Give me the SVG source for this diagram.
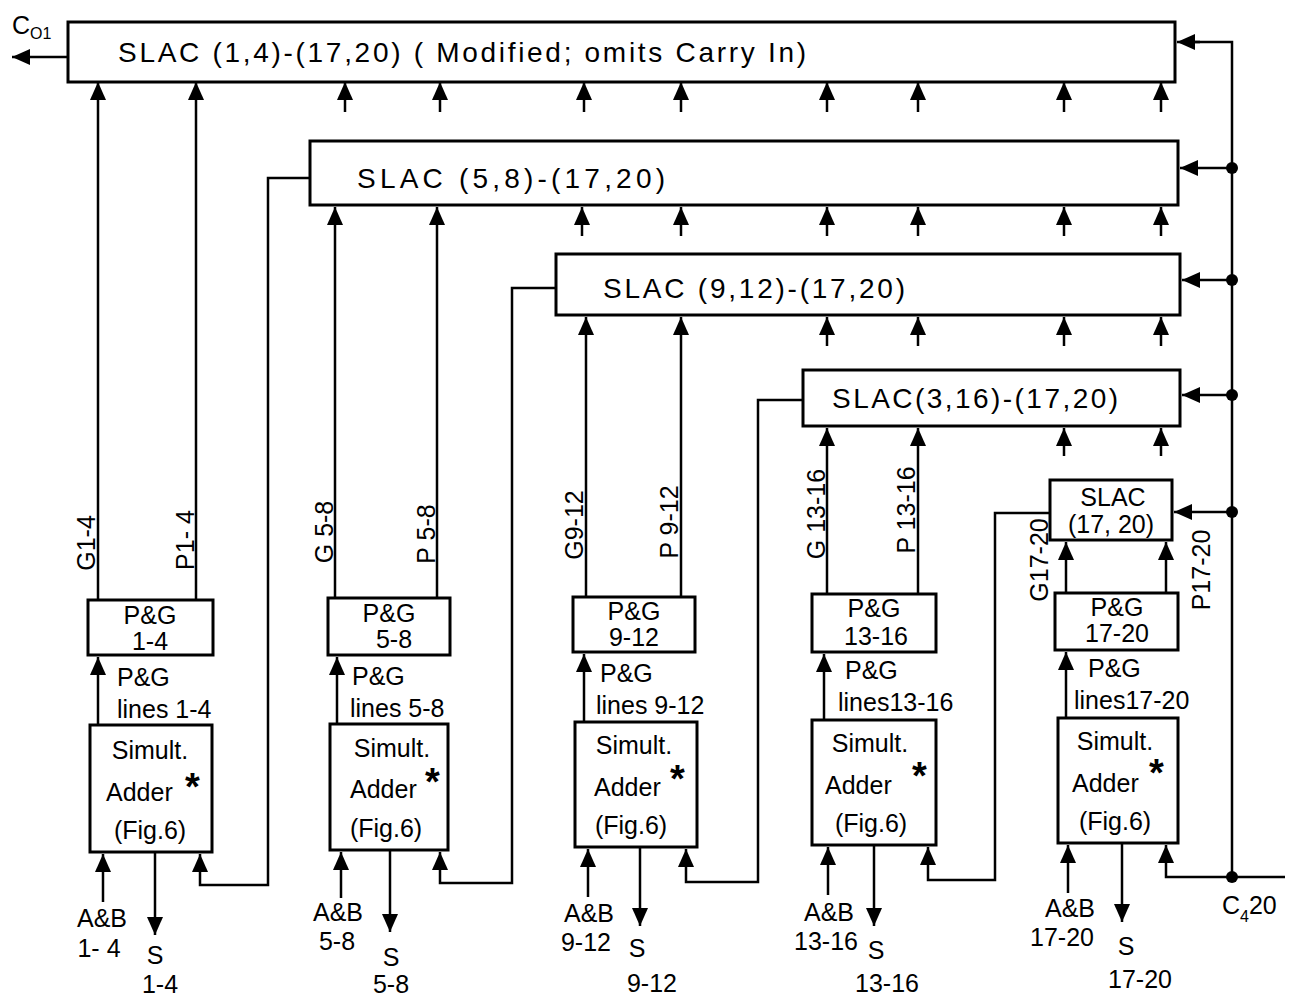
<svg xmlns="http://www.w3.org/2000/svg" width="1292" height="1000" viewBox="0 0 1292 1000">
<style>
.box{fill:#fff;stroke:#000;stroke-width:3}
.w{fill:none;stroke:#000;stroke-width:2.5}
.a{fill:none;stroke:#000;stroke-width:2.5;marker-end:url(#ah)}
text{font-family:"Liberation Sans","DejaVu Sans",sans-serif;fill:#000}
.t{font-size:28px}
.s{font-size:25px}
.c{text-anchor:middle}
.st{font-size:38px;font-weight:bold}
.dot{fill:#000}
</style>
<defs>
<marker id="ah" markerUnits="userSpaceOnUse" markerWidth="20" markerHeight="16" refX="18" refY="8" orient="auto">
<path d="M0,0 L18,8 L0,16 z" fill="#000"/>
</marker>
</defs>
<rect width="1292" height="1000" fill="#fff"/>

<g id="connectors">
<!-- carry out -->
<line class="a" x1="68" y1="57" x2="12" y2="57"/>
<!-- right bus -->
<path class="w" d="M1232,877 V42 H1195"/>
<line class="a" x1="1200" y1="42" x2="1177" y2="42"/>
<line class="a" x1="1232" y1="168" x2="1180" y2="168"/>
<line class="a" x1="1232" y1="280" x2="1182" y2="280"/>
<line class="a" x1="1232" y1="395" x2="1182" y2="395"/>
<line class="a" x1="1232" y1="512" x2="1174" y2="512"/>
<circle class="dot" cx="1232" cy="168" r="6"/>
<circle class="dot" cx="1232" cy="280" r="6"/>
<circle class="dot" cx="1232" cy="395" r="6"/>
<circle class="dot" cx="1232" cy="512" r="6"/>
<circle class="dot" cx="1232" cy="877" r="6"/>
<!-- short arrows under box 1 -->
<line class="a" x1="345" y1="112" x2="345" y2="82"/>
<line class="a" x1="440" y1="112" x2="440" y2="82"/>
<line class="a" x1="584" y1="112" x2="584" y2="82"/>
<line class="a" x1="681" y1="112" x2="681" y2="82"/>
<line class="a" x1="827" y1="112" x2="827" y2="82"/>
<line class="a" x1="918" y1="112" x2="918" y2="82"/>
<line class="a" x1="1064" y1="112" x2="1064" y2="82"/>
<line class="a" x1="1161" y1="112" x2="1161" y2="82"/>
<!-- short arrows under box 2 -->
<line class="a" x1="582" y1="236" x2="582" y2="207"/>
<line class="a" x1="681" y1="236" x2="681" y2="207"/>
<line class="a" x1="827" y1="236" x2="827" y2="207"/>
<line class="a" x1="918" y1="236" x2="918" y2="207"/>
<line class="a" x1="1064" y1="236" x2="1064" y2="207"/>
<line class="a" x1="1161" y1="236" x2="1161" y2="207"/>
<!-- short arrows under box 3 -->
<line class="a" x1="827" y1="346" x2="827" y2="317"/>
<line class="a" x1="918" y1="346" x2="918" y2="317"/>
<line class="a" x1="1064" y1="346" x2="1064" y2="317"/>
<line class="a" x1="1161" y1="346" x2="1161" y2="317"/>
<!-- short arrows under box 4 -->
<line class="a" x1="1064" y1="456" x2="1064" y2="428"/>
<line class="a" x1="1161" y1="456" x2="1161" y2="428"/>
<!-- G/P lines -->
<line class="a" x1="98" y1="600" x2="98" y2="82"/>
<line class="a" x1="196" y1="600" x2="196" y2="82"/>
<line class="a" x1="335" y1="598" x2="335" y2="207"/>
<line class="a" x1="437" y1="598" x2="437" y2="207"/>
<line class="a" x1="586" y1="597" x2="586" y2="317"/>
<line class="a" x1="681" y1="597" x2="681" y2="317"/>
<line class="a" x1="827" y1="594" x2="827" y2="428"/>
<line class="a" x1="918" y1="594" x2="918" y2="428"/>
<line class="a" x1="1066" y1="593" x2="1066" y2="542"/>
<line class="a" x1="1166" y1="593" x2="1166" y2="542"/>
<!-- adder to P&G -->
<line class="a" x1="98" y1="725" x2="98" y2="657"/>
<line class="a" x1="337" y1="724" x2="337" y2="657"/>
<line class="a" x1="584" y1="722" x2="584" y2="654"/>
<line class="a" x1="824" y1="720" x2="824" y2="654"/>
<line class="a" x1="1066" y1="718" x2="1066" y2="652"/>
<!-- carry-in feedback paths -->
<path class="a" d="M310,178 H268 V885 H200 V854"/>
<path class="a" d="M556,288 H512 V883 H440 V852"/>
<path class="a" d="M803,400 H758 V882 H686 V849"/>
<path class="a" d="M1050,513 H995 V880 H928 V847"/>
<path class="a" d="M1285,877 H1166 V845"/>
<!-- A&B inputs -->
<line class="a" x1="103" y1="902" x2="103" y2="854"/>
<line class="a" x1="341" y1="898" x2="341" y2="852"/>
<line class="a" x1="588" y1="897" x2="588" y2="849"/>
<line class="a" x1="828" y1="895" x2="828" y2="847"/>
<line class="a" x1="1068" y1="893" x2="1068" y2="845"/>
<!-- S outputs -->
<line class="a" x1="155" y1="852" x2="155" y2="935"/>
<line class="a" x1="390" y1="850" x2="390" y2="932"/>
<line class="a" x1="640" y1="847" x2="640" y2="926"/>
<line class="a" x1="874" y1="845" x2="874" y2="926"/>
<line class="a" x1="1122" y1="843" x2="1122" y2="922"/>
</g>

<g id="slac1">
<rect class="box" x="68" y="22" width="1107" height="60"/>
<text class="t" x="118" y="62" textLength="688" lengthAdjust="spacing">SLAC (1,4)-(17,20)  ( Modified; omits Carry In)</text>
</g>
<g id="slac2">
<rect class="box" x="310" y="141" width="868" height="64"/>
<text class="t" x="357" y="188" textLength="308" lengthAdjust="spacing">SLAC (5,8)-(17,20)</text>
</g>
<g id="slac3">
<rect class="box" x="556" y="254" width="624" height="61"/>
<text class="t" x="603" y="298" textLength="302" lengthAdjust="spacing">SLAC (9,12)-(17,20)</text>
</g>
<g id="slac4">
<rect class="box" x="803" y="370" width="377" height="56"/>
<text class="t" x="832" y="408" textLength="286" lengthAdjust="spacing">SLAC(3,16)-(17,20)</text>
</g>
<g id="slac5">
<rect class="box" x="1050" y="480" width="122" height="60"/>
<text class="s c" x="1113" y="506">SLAC</text>
<text class="s c" x="1111" y="533">(17, 20)</text>
</g>

<g id="pg1">
<rect class="box" x="88" y="600" width="125" height="55"/>
<text class="s c" x="150" y="624">P&amp;G</text>
<text class="s c" x="150" y="650">1-4</text>
</g>
<g id="pg2">
<rect class="box" x="328" y="598" width="122" height="57"/>
<text class="s c" x="389" y="622">P&amp;G</text>
<text class="s c" x="394" y="648">5-8</text>
</g>
<g id="pg3">
<rect class="box" x="573" y="597" width="122" height="55"/>
<text class="s c" x="634" y="620">P&amp;G</text>
<text class="s c" x="634" y="646">9-12</text>
</g>
<g id="pg4">
<rect class="box" x="812" y="594" width="124" height="58"/>
<text class="s c" x="874" y="617">P&amp;G</text>
<text class="s c" x="876" y="645">13-16</text>
</g>
<g id="pg5">
<rect class="box" x="1055" y="593" width="123" height="57"/>
<text class="s c" x="1117" y="616">P&amp;G</text>
<text class="s c" x="1117" y="642">17-20</text>
</g>

<g id="adder1">
<rect class="box" x="90" y="725" width="122" height="127"/>
<text class="s c" x="150" y="759">Simult.</text>
<text class="s" x="106" y="801">Adder</text>
<text class="st" x="185" y="800">*</text>
<text class="s c" x="150" y="839">(Fig.6)</text>
</g>
<g id="adder2">
<rect class="box" x="330" y="724" width="118" height="126"/>
<text class="s c" x="392" y="757">Simult.</text>
<text class="s" x="350" y="798">Adder</text>
<text class="st" x="425" y="795">*</text>
<text class="s c" x="386" y="837">(Fig.6)</text>
</g>
<g id="adder3">
<rect class="box" x="575" y="722" width="122" height="125"/>
<text class="s c" x="634" y="754">Simult.</text>
<text class="s" x="594" y="796">Adder</text>
<text class="st" x="670" y="792">*</text>
<text class="s c" x="631" y="834">(Fig.6)</text>
</g>
<g id="adder4">
<rect class="box" x="812" y="720" width="124" height="125"/>
<text class="s c" x="870" y="752">Simult.</text>
<text class="s" x="825" y="794">Adder</text>
<text class="st" x="912" y="789">*</text>
<text class="s c" x="871" y="832">(Fig.6)</text>
</g>
<g id="adder5">
<rect class="box" x="1058" y="718" width="120" height="125"/>
<text class="s c" x="1115" y="750">Simult.</text>
<text class="s" x="1072" y="792">Adder</text>
<text class="st" x="1149" y="786">*</text>
<text class="s c" x="1115" y="830">(Fig.6)</text>
</g>

<g id="labels">
<text class="s" x="12" y="34">C<tspan font-size="16" dy="5">O1</tspan></text>
<text class="s c" transform="translate(95,543) rotate(-90)">G1-4</text>
<text class="s c" transform="translate(194,540) rotate(-90)">P1- 4</text>
<text class="s c" transform="translate(333,532) rotate(-90)">G 5-8</text>
<text class="s c" transform="translate(435,534) rotate(-90)">P 5-8</text>
<text class="s c" transform="translate(583,525) rotate(-90)">G9-12</text>
<text class="s c" transform="translate(678,522) rotate(-90)">P 9-12</text>
<text class="s c" transform="translate(825,514) rotate(-90)">G 13-16</text>
<text class="s c" transform="translate(915,510) rotate(-90)">P 13-16</text>
<text class="s c" transform="translate(1048,560) rotate(-90)">G17-20</text>
<text class="s c" transform="translate(1210,570) rotate(-90)">P17-20</text>

<text class="s" x="117" y="686">P&amp;G</text>
<text class="s" x="117" y="718">lines 1-4</text>
<text class="s" x="352" y="685">P&amp;G</text>
<text class="s" x="350" y="717">lines 5-8</text>
<text class="s" x="600" y="682">P&amp;G</text>
<text class="s" x="596" y="714">lines 9-12</text>
<text class="s" x="845" y="679">P&amp;G</text>
<text class="s" x="838" y="711">lines13-16</text>
<text class="s" x="1088" y="677">P&amp;G</text>
<text class="s" x="1074" y="709">lines17-20</text>

<text class="s c" x="102" y="927">A&amp;B</text>
<text class="s c" x="99" y="957">1- 4</text>
<text class="s c" x="155" y="964">S</text>
<text class="s c" x="160" y="993">1-4</text>
<text class="s c" x="338" y="921">A&amp;B</text>
<text class="s c" x="337" y="950">5-8</text>
<text class="s c" x="391" y="966">S</text>
<text class="s c" x="391" y="993">5-8</text>
<text class="s c" x="589" y="922">A&amp;B</text>
<text class="s c" x="586" y="951">9-12</text>
<text class="s c" x="637" y="957">S</text>
<text class="s c" x="652" y="992">9-12</text>
<text class="s c" x="829" y="921">A&amp;B</text>
<text class="s c" x="826" y="950">13-16</text>
<text class="s c" x="876" y="959">S</text>
<text class="s c" x="887" y="992">13-16</text>
<text class="s c" x="1070" y="917">A&amp;B</text>
<text class="s c" x="1062" y="946">17-20</text>
<text class="s c" x="1126" y="955">S</text>
<text class="s c" x="1140" y="988">17-20</text>
<text class="s" x="1222" y="914">C<tspan font-size="16" dy="8">4</tspan><tspan dy="-8">20</tspan></text>
</g>
</svg>
